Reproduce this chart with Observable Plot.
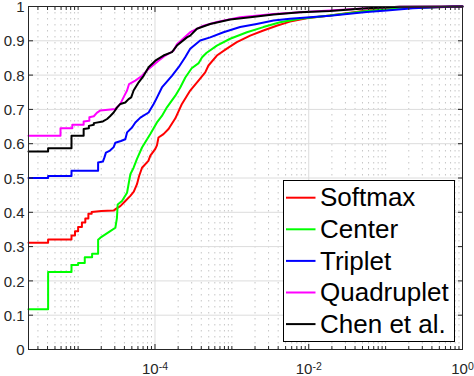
<!DOCTYPE html>
<html>
<head>
<meta charset="utf-8">
<script src="https://cdn.jsdelivr.net/npm/d3@7"></script>
<script src="https://cdn.jsdelivr.net/npm/@observablehq/plot@0.6"></script>
<style>
  html, body { margin: 0; padding: 0; background: #fff; }
  svg { display: block; }
</style>
</head>
<body>
<div id="chart"></div>
<script>
// ---- Series names and colours ----
const seriesNames = ["Softmax", "Center", "Triplet", "Quadruplet", "Chen et al."];
const seriesColors = ["#ff0000", "#00ff00", "#0000ff", "#ff00ff", "#000000"];

// ---- Softmax (red) ----
const softmaxFar = [2.262e-6, 4.07e-6, 4.07e-6, 8.2e-6, 8.2e-6, 9.1e-6, 9.1e-6, 1.0e-5, 1.0e-5, 1.12e-5, 1.12e-5, 1.24e-5, 1.24e-5, 1.36e-5, 1.36e-5, 1.5e-5, 1.5e-5, 2.0e-5, 2.9e-5, 3.1e-5, 3.54e-5, 4.0e-5, 4.78e-5, 5.3e-5, 5.83e-5, 6.2e-5, 6.78e-5, 8.2e-5, 8.7e-5, 1.01e-4, 1.06e-4, 1.11e-4, 1.29e-4, 1.5e-4, 1.84e-4, 2.24e-4, 2.87e-4, 3.68e-4, 4.5e-4, 4.96e-4, 6.38e-4, 8.6e-4, 1.16e-3, 1.73e-3, 2.57e-3, 3.83e-3, 5.7e-3, 9.4e-3, 1.89e-2, 5.66e-2, 0.153, 1];
const softmaxTpr = [0.311, 0.311, 0.321, 0.321, 0.332, 0.332, 0.345, 0.345, 0.357, 0.357, 0.370, 0.370, 0.382, 0.382, 0.396, 0.396, 0.401, 0.404, 0.405, 0.410, 0.418, 0.430, 0.448, 0.460, 0.482, 0.505, 0.530, 0.550, 0.565, 0.585, 0.595, 0.618, 0.628, 0.643, 0.674, 0.716, 0.755, 0.784, 0.808, 0.828, 0.857, 0.877, 0.896, 0.915, 0.930, 0.944, 0.956, 0.966, 0.974, 0.988, 0.995, 1];

// ---- Center (green) ----
const centerFar = [2.262e-6, 4.07e-6, 4.07e-6, 8.2e-6, 8.2e-6, 1.0e-5, 1.0e-5, 1.22e-5, 1.22e-5, 1.52e-5, 1.52e-5, 1.82e-5, 1.82e-5, 1.95e-5, 2.62e-5, 3.05e-5, 3.2e-5, 3.27e-5, 3.72e-5, 4.33e-5, 4.78e-5, 5.27e-5, 5.83e-5, 6.78e-5, 8.69e-5, 1.06e-4, 1.23e-4, 1.43e-4, 1.84e-4, 2.13e-4, 2.48e-4, 3.0e-4, 3.7e-4, 4.1e-4, 4.7e-4, 6.38e-4, 9.5e-4, 1.57e-3, 2.57e-3, 4.24e-3, 7.7e-3, 1.89e-2, 5.66e-2, 0.153, 1];
const centerTpr = [0.117, 0.117, 0.226, 0.226, 0.246, 0.246, 0.252, 0.252, 0.269, 0.269, 0.279, 0.279, 0.320, 0.326, 0.345, 0.355, 0.384, 0.423, 0.433, 0.457, 0.511, 0.530, 0.556, 0.589, 0.628, 0.662, 0.681, 0.706, 0.740, 0.764, 0.793, 0.820, 0.835, 0.852, 0.865, 0.886, 0.906, 0.925, 0.940, 0.954, 0.964, 0.974, 0.987, 0.995, 1];

// ---- Triplet (blue) ----
const tripletFar = [2.262e-6, 4.07e-6, 4.07e-6, 8.2e-6, 8.2e-6, 1.82e-5, 1.82e-5, 2.1e-5, 2.2e-5, 2.3e-5, 2.6e-5, 2.9e-5, 3.05e-5, 3.6e-5, 4.11e-5, 4.33e-5, 5.03e-5, 5.55e-5, 6.45e-5, 8.26e-5, 9.6e-5, 1.01e-4, 1.23e-4, 1.66e-4, 2.03e-4, 2.47e-4, 2.87e-4, 3.87e-4, 5.22e-4, 7.77e-4, 1.28e-3, 2.1e-3, 3.48e-3, 5.7e-3, 1.04e-2, 1.89e-2, 5.66e-2, 0.103, 0.226, 0.74, 1];
const tripletTpr = [0.500, 0.500, 0.506, 0.506, 0.521, 0.521, 0.545, 0.548, 0.560, 0.574, 0.580, 0.590, 0.603, 0.608, 0.613, 0.633, 0.647, 0.662, 0.676, 0.691, 0.716, 0.725, 0.764, 0.798, 0.823, 0.852, 0.877, 0.901, 0.910, 0.925, 0.940, 0.949, 0.959, 0.964, 0.969, 0.973, 0.984, 0.988, 0.995, 1.0, 1];

// ---- Quadruplet (magenta) ----
const quadrupletFar = [2.262e-6, 5.9e-6, 5.9e-6, 8.4e-6, 8.4e-6, 1.18e-5, 1.18e-5, 1.4e-5, 1.4e-5, 1.6e-5, 1.75e-5, 1.95e-5, 3.05e-5, 3.54e-5, 4.0e-5, 4.33e-5, 4.6e-5, 5.55e-5, 6.78e-5, 8.26e-5, 1.11e-4, 1.36e-4, 1.74e-4, 1.93e-4, 2.87e-4, 4.27e-4, 6.38e-4, 1.28e-3, 3.5e-3, 7.7e-3, 1.89e-2, 5.66e-2, 0.153, 1];
const quadrupletTpr = [0.623, 0.623, 0.645, 0.645, 0.655, 0.655, 0.665, 0.667, 0.677, 0.680, 0.690, 0.697, 0.701, 0.716, 0.740, 0.755, 0.774, 0.784, 0.798, 0.818, 0.842, 0.857, 0.871, 0.890, 0.925, 0.944, 0.955, 0.969, 0.978, 0.983, 0.988, 0.995, 0.999, 1];

// ---- Chen et al. (black) ----
const chenFar = [2.262e-6, 4.07e-6, 4.07e-6, 8.2e-6, 8.2e-6, 1.18e-5, 1.18e-5, 1.38e-5, 1.38e-5, 1.6e-5, 1.6e-5, 2.1e-5, 2.38e-5, 2.6e-5, 2.9e-5, 3.2e-5, 3.54e-5, 4.11e-5, 4.53e-5, 4.9e-5, 5.27e-5, 6.13e-5, 7.11e-5, 8.26e-5, 1.01e-4, 1.29e-4, 1.66e-4, 1.93e-4, 2.6e-4, 2.87e-4, 3.51e-4, 5.22e-4, 9.5e-4, 1.73e-3, 3.48e-3, 7.7e-3, 1.89e-2, 5.66e-2, 0.153, 1];
const chenTpr = [0.577, 0.577, 0.587, 0.587, 0.623, 0.623, 0.643, 0.645, 0.652, 0.655, 0.660, 0.665, 0.672, 0.680, 0.691, 0.705, 0.716, 0.720, 0.730, 0.735, 0.755, 0.779, 0.798, 0.823, 0.842, 0.857, 0.867, 0.886, 0.910, 0.915, 0.935, 0.949, 0.962, 0.969, 0.977, 0.983, 0.987, 0.995, 0.999, 1];

// ---- Axes ----
const xDomain = [2.262e-6, 1];
const xTickValues = [1e-4, 1e-2, 1];
const xTickBase = ["10", "10", "10"];
const xTickExponents = ["-4", "-2", "0"];
const yTickValues = [0, 0.1, 0.2, 0.3, 0.4, 0.5, 0.6, 0.7, 0.8, 0.9, 1];
const yTickLabels = ["0", "0.1", "0.2", "0.3", "0.4", "0.5", "0.6", "0.7", "0.8", "0.9", "1"];

// minor log ticks (2..9 x 10^k and the unlabelled decades)
const minorX = [];
for (let e = -6; e <= 0; e++) {
  for (let m = 1; m <= 9; m++) {
    const v = m * Math.pow(10, e);
    if (v < xDomain[0] || v >= xDomain[1]) continue;
    if (xTickValues.some(t => Math.abs(t - v) / t < 1e-9)) continue;
    minorX.push(v);
  }
}

// ---- Long table for Plot ----
const seriesData = [
  [softmaxFar, softmaxTpr],
  [centerFar, centerTpr],
  [tripletFar, tripletTpr],
  [quadrupletFar, quadrupletTpr],
  [chenFar, chenTpr]
];
const rows = [];
seriesData.forEach(([far, tpr], i) => {
  far.forEach((f, j) => rows.push({series: seriesNames[i], far: f, tpr: tpr[j]}));
});

const axisColor = "#262626";
const fontFam = "'Liberation Sans', Arial, Helvetica, sans-serif";
const W = 474, H = 376;
const mL = 28, mR = 12, mT = 6, mB = 27;
const noText = () => "";

const plot = Plot.plot({
  width: W, height: H,
  marginLeft: mL, marginRight: mR, marginTop: mT, marginBottom: mB,
  x: {type: "log", domain: xDomain},
  y: {domain: [0, 1]},
  color: {domain: seriesNames, range: seriesColors},
  style: {fontFamily: fontFam, fontSize: "15px", background: "#fff", color: axisColor, overflow: "visible"},
  marks: [
    // minor (dotted) grid
    Plot.ruleX(minorX, {stroke: "#c6c6c6", strokeWidth: 1, strokeDasharray: "1.5,4.5"}),
    // major grid
    Plot.ruleY(yTickValues, {stroke: "#dcdcdc", strokeWidth: 1}),
    Plot.ruleX(xTickValues, {stroke: "#dcdcdc", strokeWidth: 1}),
    // curves
    Plot.line(rows, {x: "far", y: "tpr", z: "series", stroke: "series", strokeWidth: 2, curve: "linear"}),
    // box
    Plot.frame({stroke: axisColor, strokeWidth: 1}),
    // inward tick marks
    Plot.axisX(xTickValues, {anchor: "bottom", tickSize: 5, dy: -5, tickFormat: noText, label: null, stroke: axisColor}),
    Plot.axisX(minorX, {anchor: "bottom", tickSize: 3, dy: -3, tickFormat: noText, label: null, stroke: axisColor}),
    Plot.axisX(xTickValues, {anchor: "top", tickSize: 5, dy: 5, tickFormat: noText, label: null, stroke: axisColor}),
    Plot.axisX(minorX, {anchor: "top", tickSize: 3, dy: 3, tickFormat: noText, label: null, stroke: axisColor}),
    Plot.axisY(yTickValues, {anchor: "left", tickSize: 5, dx: 5, tickFormat: noText, label: null, stroke: axisColor}),
    Plot.axisY(yTickValues, {anchor: "right", tickSize: 5, dx: -5, tickFormat: noText, label: null, stroke: axisColor}),
    // tick labels
    Plot.axisX(xTickValues, {anchor: "bottom", tickSize: 0, tickPadding: 13.7, fontSize: 15, label: null,
      tickFormat: d => xTickBase[xTickValues.indexOf(d)] + "^" + xTickExponents[xTickValues.indexOf(d)],
      fill: axisColor}),
    Plot.axisY(yTickValues, {anchor: "left", tickSize: 0, tickPadding: 4, fontSize: 15, dy: 0.8, label: null,
      tickFormat: d => yTickLabels[yTickValues.indexOf(d)], fill: axisColor})
  ]
});

document.getElementById("chart").appendChild(plot);

// enforce tick label font size and build superscripts for log labels
d3.select(plot).selectAll("text").each(function () {
  const sel = d3.select(this);
  const t = this.textContent;
  if (t === "") return;
  sel.attr("font-size", "15px").style("font-size", "15px");
  if (t.includes("^")) {
    const [base, exp] = t.split("^");
    sel.text(null);
    sel.append("tspan").text(base);
    sel.append("tspan").attr("dy", "-4.3").style("font-size", "10.5px").text(exp);
  }
});

// legend (inside the axes, bottom-right)
const svg = d3.select(plot);
const boxRight = W - mR - 8, boxBottom = H - mB - 8;
const boxW = 171, boxH = 161;
const boxX = boxRight - boxW, boxY = boxBottom - boxH;
const lg = svg.append("g").attr("class", "legend").attr("text-anchor", "start");
lg.append("rect")
  .attr("x", boxX + 0.5).attr("y", boxY + 0.5)
  .attr("width", boxW).attr("height", boxH)
  .attr("fill", "#fff").attr("stroke", "#000").attr("stroke-width", 1);
const rowGap = 31.6, firstRow = boxY + 17.7;
seriesNames.forEach((name, i) => {
  const cy = firstRow + i * rowGap;
  lg.append("line")
    .attr("x1", boxX + 3).attr("x2", boxX + 32.5)
    .attr("y1", cy).attr("y2", cy)
    .attr("stroke", seriesColors[i]).attr("stroke-width", 2);
  lg.append("text")
    .attr("x", boxX + 37).attr("y", cy + 8.6)
    .attr("text-anchor", "start")
    .style("font-size", "26px")
    .attr("font-family", fontFam)
    .attr("fill", "#000")
    .text(name);
});
</script>
</body>
</html>
